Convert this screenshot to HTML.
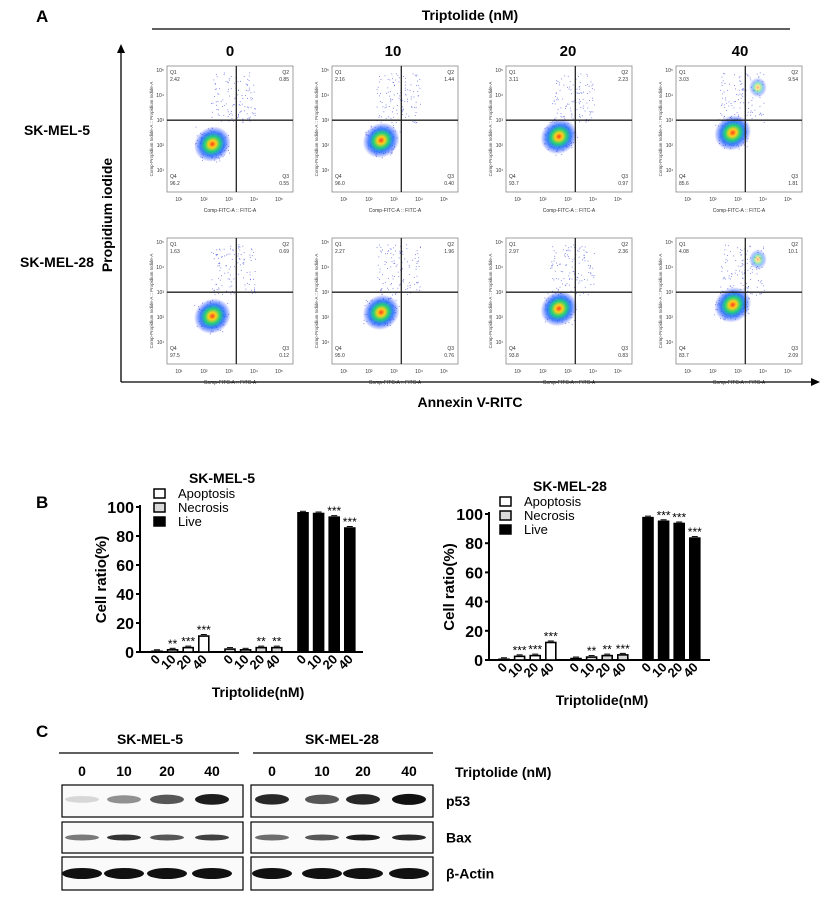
<!DOCTYPE html>
<html><head><meta charset="utf-8"><style>
body{margin:0;background:#fff;}
svg{display:block;font-family:"Liberation Sans",Arial,sans-serif;}
.b{font-weight:bold;}
</style></head><body>
<svg id="fig" width="825" height="900" viewBox="0 0 825 900">
<defs>
<radialGradient id="heat"><stop offset="0" stop-color="#ff3b1f"/><stop offset="0.2" stop-color="#ffd11a"/><stop offset="0.42" stop-color="#21d07a"/><stop offset="0.65" stop-color="#1e6bff" stop-opacity="0.85"/><stop offset="1" stop-color="#2030ff" stop-opacity="0"/></radialGradient>
</defs>
<text x="36" y="22" font-size="17" class="b">A</text>
<text x="470" y="20" font-size="14" class="b" text-anchor="middle">Triptolide (nM)</text>
<line x1="152" y1="29" x2="790" y2="29" stroke="#000" stroke-width="1.2"/>
<g font-size="15" class="b" text-anchor="middle">
<text x="230" y="56">0</text><text x="393" y="56">10</text><text x="568" y="56">20</text><text x="740" y="56">40</text></g>
<text x="57" y="135" font-size="14" class="b" text-anchor="middle">SK-MEL-5</text>
<text x="57" y="267" font-size="14" class="b" text-anchor="middle">SK-MEL-28</text>
<line x1="121" y1="382" x2="121" y2="50" stroke="#000" stroke-width="1.3"/>
<polygon points="121,44 117,53 125,53"/>
<line x1="121" y1="382" x2="812" y2="382" stroke="#000" stroke-width="1.3"/>
<polygon points="820,382 811,378 811,386"/>
<text transform="translate(112,215) rotate(-90)" font-size="14" class="b" text-anchor="middle">Propidium iodide</text>
<text x="470" y="407" font-size="14" class="b" text-anchor="middle">Annexin V-RITC</text>
<g id="flow"></g>

<text x="36" y="508" font-size="17" class="b">B</text>
<g id="barL"></g><g id="barR"></g>

<text x="36" y="737" font-size="17" class="b">C</text>
<g id="wb"></g>
</svg>
<script>
const NS="http://www.w3.org/2000/svg";
function mk(p,t,a){const e=document.createElementNS(NS,t);for(const k in a)e.setAttribute(k,a[k]);p.appendChild(e);return e;}
// ---------- Flow cytometry ----------
const flowQuadValues=[[2.42,0.85,96.2,0.55],[2.16,1.44,96.0,0.40],[3.11,2.23,93.7,0.97],[3.03,9.54,85.6,1.81],
[1.63,0.69,97.5,0.12],[2.27,1.96,95.0,0.76],[2.97,2.36,93.8,0.83],[4.08,10.1,83.7,2.09]];
const flowCols=[167,332,506,676];const flowRows=[66,238];
let seed=7;function rnd(){seed=(seed*16807)%2147483647;return seed/2147483647;}
function gauss(){return (rnd()+rnd()+rnd()-1.5)/1.5;}
const flow=document.getElementById('flow');
flowQuadValues.forEach((q,i)=>{
 const x0=flowCols[i%4],y0=flowRows[Math.floor(i/4)],w=126,h=126;
 const g=mk(flow,'g',{});
 
 
 mk(g,'rect',{x:x0,y:y0,width:w,height:h,fill:'#fff',stroke:'#888','stroke-width':0.8});
 const vx=x0+w*0.55,hy=y0+h*0.43;
 const sh=(i%4)*0.03;
 const cx=x0+w*(0.36+sh),cy=y0+h*(0.62-sh);
 for(let k=0;k<380;k++){
  let px,py;
  if(k<260){px=cx+gauss()*w*0.16;py=cy+gauss()*h*0.16;}
  else{px=x0+w*(0.35+rnd()*0.35);py=y0+h*(0.05+rnd()*0.4);}
  mk(g,'rect',{x:px.toFixed(1),y:py.toFixed(1),width:0.9,height:0.9,fill:'#3a46d8','fill-opacity':0.7});
 }
 if(q[1]>5){mk(g,'ellipse',{cx:x0+w*0.65,cy:y0+h*0.17,rx:9,ry:10,fill:'url(#heat)','fill-opacity':0.5});}
 mk(g,'ellipse',{cx:cx,cy:cy,rx:19,ry:17,fill:'url(#heat)',transform:`rotate(-35 ${cx} ${cy})`});
 mk(g,'line',{x1:vx,y1:y0,x2:vx,y2:y0+h,stroke:'#222','stroke-width':1.3});
 mk(g,'line',{x1:x0,y1:hy,x2:x0+w,y2:hy,stroke:'#222','stroke-width':1.3});
 const t=(x,y,s,a)=>{const e=mk(g,'text',{x:x,y:y,'font-size':5,fill:'#333','text-anchor':a||'start'});e.textContent=s;};
 t(x0+3,y0+8,'Q1');t(x0+3,y0+15,q[0].toFixed(2));
 t(x0+w-4,y0+8,'Q2','end');t(x0+w-4,y0+15,q[1]>=10?q[1].toFixed(1):q[1].toFixed(2),'end');
 t(x0+3,y0+h-14,'Q4');t(x0+3,y0+h-7,q[2].toFixed(1));
 t(x0+w-4,y0+h-14,'Q3','end');t(x0+w-4,y0+h-7,q[3].toFixed(2),'end');
 ['10\u2075','10\u2074','10\u00b3','10\u00b2','10\u00b9'].forEach((s,j)=>t(x0-3,y0+6+j*25,s,'end'));
 ['10\u00b9','10\u00b2','10\u00b3','10\u2074','10\u2075'].forEach((s,j)=>t(x0+12+j*25,y0+h+9,s,'middle'));
 t(x0+w/2,y0+h+20,'Comp-FITC-A :: FITC-A','middle');
 const r=mk(g,'text',{transform:`translate(${x0-14},${y0+h/2}) rotate(-90)`,'font-size':4.5,fill:'#444','text-anchor':'middle'});r.textContent='Comp-Propidium Iodide-A :: Propidium Iodide-A';
});
// ---------- Bar charts ----------
const doses=['0','10','20','40'];
const seriesNames=['Apoptosis','Necrosis','Live'];
const mel5Apoptosis=[0.5,1.5,3,11];
const mel5Necrosis=[2,1.5,3,3];
const mel5Live=[96,95.5,93,85.5];
const mel5Stars=[['','**','***','***'],['','','**','**'],['','','***','***']];
const mel28Apoptosis=[0.5,2.5,3,12];
const mel28Necrosis=[1,2,3,3.5];
const mel28Live=[97.5,95,93.5,83.5];
const mel28Stars=[['','***','***','***'],['','**','**','***'],['','***','***','***']];
const yTicks=[0,20,40,60,80,100];
function barChart(id,title,series,stars,o){
 const g=document.getElementById(id);
 const ys=v=>o.y0-v*(o.y0-o.y100)/100;
 const xs=(gi,di)=>o.x0+o.first+gi*o.gap+di*o.step;
 let e=mk(g,'text',{x:o.tx,y:o.ty,'font-size':14,'font-weight':'bold','text-anchor':'middle'});e.textContent=title;
 
 mk(g,'line',{x1:o.x0,y1:o.y100-2,x2:o.x0,y2:o.y0,stroke:'#000','stroke-width':2});
 mk(g,'line',{x1:o.x0,y1:o.y0,x2:o.xEnd,y2:o.y0,stroke:'#000','stroke-width':2});
 yTicks.forEach(v=>{mk(g,'line',{x1:o.x0-4,y1:ys(v),x2:o.x0,y2:ys(v),stroke:'#000','stroke-width':2});
  const t=mk(g,'text',{x:o.x0-6,y:ys(v)+6,'font-size':16,'font-weight':'bold','text-anchor':'end'});t.textContent=v;
  });
 const fills=['#fff','#d9d9d9','#000'];
 series.forEach((s,gi)=>s.forEach((v,di)=>{
  const cx=xs(gi,di);
  const r=mk(g,'rect',{x:cx-5,y:ys(v),width:10,height:o.y0-ys(v),fill:fills[gi],stroke:'#000','stroke-width':1.6});
  
  
  mk(g,'line',{x1:cx-3,y1:ys(v)-1.5,x2:cx+3,y2:ys(v)-1.5,stroke:'#000','stroke-width':1});
  if(stars[gi][di]){const t=mk(g,'text',{x:cx,y:ys(v)-2,'font-size':12,'text-anchor':'middle'});t.textContent=stars[gi][di];}
  const l=mk(g,'text',{transform:`translate(${cx+4},${o.y0+8}) rotate(-45)`,'font-size':13,'font-weight':'bold','text-anchor':'end'});l.textContent=doses[di];
  
 }));
 seriesNames.forEach((n,i)=>{const ly=o.ly+i*14;
  mk(g,'rect',{x:o.lx,y:ly,width:11,height:9,fill:fills[i],stroke:'#000','stroke-width':1.5});
  const t=mk(g,'text',{x:o.lx+24,y:ly+9,'font-size':13});t.textContent=n;
  });
 e=mk(g,'text',{transform:`translate(${o.yl},${(o.y0+o.y100)/2}) rotate(-90)`,'font-size':15,'font-weight':'bold','text-anchor':'middle'});e.textContent='Cell ratio(%)';
 
 e=mk(g,'text',{x:o.xtx,y:o.xty,'font-size':14,'font-weight':'bold','text-anchor':'middle'});e.textContent='Triptolide(nM)';
 
}
barChart('barL','SK-MEL-5',[mel5Apoptosis,mel5Necrosis,mel5Live],mel5Stars,
 {x0:140,xEnd:363,y0:652,y100:507,first:17,gap:73,step:15.6,tx:222,ty:483,lx:154,ly:489,yl:106,xtx:258,xty:697});
barChart('barR','SK-MEL-28',[mel28Apoptosis,mel28Necrosis,mel28Live],mel28Stars,
 {x0:489,xEnd:710,y0:660,y100:514,first:15,gap:72,step:15.6,tx:570,ty:491,lx:500,ly:497,yl:454,xtx:602,xty:705});
// ---------- Western blot ----------
const wb=document.getElementById('wb');
const p53Left=[0.15,0.45,0.7,0.95],p53Right=[0.9,0.7,0.9,1];
const baxLeft=[0.55,0.85,0.7,0.8],baxRight=[0.6,0.7,0.95,0.9];
const actin=[1,1,1,1];
function hdr(x,y,s,size,anchor,name){const t=mk(wb,'text',{x:x,y:y,'font-size':size,'font-weight':'bold','text-anchor':anchor||'middle'});t.textContent=s;}
hdr(150,744,'SK-MEL-5',14,'middle','blot-header-skmel5');hdr(342,744,'SK-MEL-28',14,'middle','blot-header-skmel28');
mk(wb,'line',{x1:59,y1:753,x2:239,y2:753,stroke:'#000','stroke-width':1.2});
mk(wb,'line',{x1:253,y1:753,x2:433,y2:753,stroke:'#000','stroke-width':1.2});
const laneL=[82,124,167,212],laneR=[272,322,363,409];
doses.forEach((d,i)=>{hdr(laneL[i],776,d,14,'middle','lane-label');hdr(laneR[i],776,d,14,'middle','lane-label');});
hdr(455,777,'Triptolide (nM)',14,'start','blot-treatment-label');
const rowsY=[[785,817,'p53',p53Left,p53Right,0.45],[822,853,'Bax',baxLeft,baxRight,0.5],[857,890,'β-Actin',actin,actin,0.5]];
rowsY.forEach(([t,b,lab,L,R,pos])=>{
 [[62,243,laneL,L],[251,433,laneR,R]].forEach(([a,z,lanes,vals])=>{
  const g=mk(wb,'g',{});
  mk(g,'rect',{x:a,y:t,width:z-a,height:b-t,fill:'#fafafa',stroke:'#000','stroke-width':1.2});
  vals.forEach((v,i)=>{const th=lab==='β-Actin'?5.5:(lab==='Bax'?3:3+v*2.5);
   mk(g,'ellipse',{cx:lanes[i],cy:t+(b-t)*pos,rx:lab==='β-Actin'?20:17,ry:th,fill:'#111','fill-opacity':v});});
 });
 hdr(446,(t+b)/2+5,lab,14,'start','blot-label-'+lab.toLowerCase());
});
</script>
</body></html>
